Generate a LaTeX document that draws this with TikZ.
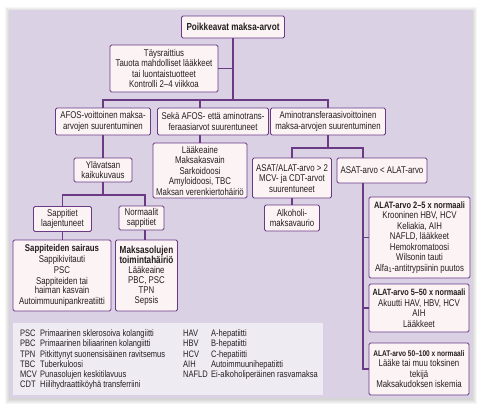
\documentclass[tikz,border=0pt]{standalone}
\usepackage{fontspec}
\setmainfont{Liberation Sans}[FakeStretch=0.8]
\definecolor{panel}{HTML}{DAD1E5}
\definecolor{legbg}{HTML}{EFEBF3}
\definecolor{boxbg}{HTML}{FCF3F5}
\definecolor{pur}{HTML}{6B3A85}
\definecolor{txt}{HTML}{231F20}
\tikzset{
  box/.style={draw=pur, fill=boxbg, line width=0.8pt, rounded corners=1.5pt, align=center,
    inner sep=1pt, text=txt, font=\fontsize{9.8}{10.5}\selectfont},
  conn/.style={draw=pur, line width=1.2pt},
}
\begin{document}
\begin{tikzpicture}[x=1pt,y=-1pt]
\useasboundingbox (0,0) rectangle (480,408);
% shadow and panel
\foreach \i in {1,...,5}{
  \fill[black, opacity=0.035] (10-\i,10-\i+2) rectangle (472+\i,398+\i+1);
}
\fill[panel] (10,10) rectangle (472,398);
\fill[legbg] (13,323) rectangle (323,395);

% nodes
\node[box, minimum width=103pt, minimum height=22pt, font=\bfseries\fontsize{10.2}{11}\selectfont] (root) at (233,27) {Poikkeavat maksa-arvot};
\node[box, minimum width=108pt, minimum height=47pt] (pre) at (164,68.5) {Täysraittius\\Tauota mahdolliset lääkkeet\\tai luontaistuotteet\\Kontrolli 2–4 viikkoa};
\node[box, minimum width=95pt, minimum height=27pt] (afos) at (103,121.5) {AFOS-voittoinen maksa-\\arvojen suurentuminen};
\node[box, minimum width=111pt, minimum height=27pt] (seka) at (213,121.5) {Sekä AFOS- että aminotrans-\\feraasiarvot suurentuneet};
\node[box, minimum width=115pt, minimum height=27pt] (amino) at (328,121.5) {Aminotransferaasivoittoinen\\maksa-arvojen suurentuminen};
\node[box, minimum width=58pt, minimum height=24pt] (yla) at (103,170) {Ylävatsan\\kaikukuvaus};
\node[box, minimum width=94pt, minimum height=55pt] (lake) at (200,170.5) {Lääkeaine\\Maksakasvain\\Sarkoidoosi\\Amyloidoosi, TBC\\Maksan verenkiertohäiriö};
\node[box, minimum width=79pt, minimum height=40pt] (asat2) at (292,178) {ASAT/ALAT-arvo > 2\\MCV- ja CDT-arvot\\suurentuneet};
\node[box, minimum width=90pt, minimum height=25pt] (asatlt) at (382,170.5) {ASAT-arvo < ALAT-arvo};
\node[box, minimum width=58pt, minimum height=25pt] (sapl) at (62.5,219) {Sappitiet\\laajentuneet};
\node[box, minimum width=45pt, minimum height=24pt] (norm) at (141.5,218) {Normaalit\\sappitiet};
\node[box, minimum width=98pt, minimum height=71pt, font=\fontsize{9.8}{9.4}\selectfont] (sair) at (62,275.5) {\textbf{Sappiteiden sairaus}\\[1.6pt]Sappikivitauti\\[1.6pt]PSC\\[1.6pt]Sappiteiden tai\\haiman kasvain\\[1.6pt]Autoimmuunipankreatiitti};
\node[box, minimum width=62pt, minimum height=71pt, font=\fontsize{9.8}{10}\selectfont] (toim) at (146.5,275.5) {\textbf{\fontsize{10.2}{9.8}\selectfont Maksasolujen}\\\textbf{\fontsize{10.2}{9.8}\selectfont toimintahäiriö}\\Lääkeaine\\PBC, PSC\\TPN\\Sepsis};
\node[box, minimum width=55pt, minimum height=26pt] (alko) at (292,218) {Alkoholi-\\maksavaurio};
\node[box, minimum width=101pt, minimum height=81pt] (boxA) at (419.5,237.5) {{\bfseries\fontsize{9.3}{10.5}\selectfont ALAT-arvo 2–5 x normaali}\\Krooninen HBV, HCV\\Keliakia, AIH\\NAFLD, lääkkeet\\Hemokromatoosi\\Wilsonin tauti\\Alfa\textsubscript{1}-antitrypsiinin puutos};
\node[box, minimum width=100pt, minimum height=48pt] (boxB) at (419,308) {{\bfseries\fontsize{9.1}{10.5}\selectfont ALAT-arvo 5–50 x normaali}\\Akuutti HAV, HBV, HCV\\AIH\\Lääkkeet};
\node[box, minimum width=100pt, minimum height=52pt] (boxC) at (419,369) {{\bfseries\fontsize{8.2}{10.5}\selectfont ALAT-arvo 50–100 x normaali}\\Lääke tai muu toksinen\\tekijä\\Maksakudoksen iskemia};

% legend
\node[anchor=north west, inner sep=0pt, text=txt, font=\fontsize{9.4}{10.3}\selectfont] (leg) at (20,329)
{\begin{tabular}{@{}p{20pt}@{}p{143pt}@{}p{28pt}@{}l@{}}
PSC & Primaarinen sklerosoiva kolangiitti & HAV & A-hepatiitti\\
PBC & Primaarinen biliaarinen kolangiitti & HBV & B-hepatiitti\\
TPN & Pitkittynyt suonensisäinen ravitsemus & HCV & C-hepatiitti\\
TBC & Tuberkuloosi & AIH & Autoimmuunihepatiitti\\
MCV & Punasolujen keskitilavuus & NAFLD & Ei-alkoholiperäinen rasvamaksa\\
CDT & Hiilihydraattiköyhä transferriini & & 
\end{tabular}};

% connectors
\coordinate (j1) at (233,100);
\coordinate (j1b) at (200,100);
\coordinate (j2) at (103,195);
\coordinate (j3) at (145,195);
\coordinate (j4) at (328,148);
\coordinate (j5) at (363,148);
\draw[conn] (root.south) -- (j1);
\draw[conn] (pre.east) -- (pre.east -| j1);
\draw[conn] (afos.north) |- (j1) -| (amino.north);
\draw[conn] (j1b) -- (j1b |- seka.north);
\draw[conn] (lake.north) -- (lake.north |- seka.south);
\draw[conn] (yla.north) -- (yla.north |- afos.south);
\draw[conn] (yla.south) -- (j2);
\draw[conn] (sapl.north) |- (j3) -- (j3 |- norm.north);
\draw[conn] (sapl.south) -- (sapl.south |- sair.north);
\draw[conn] (j3 |- norm.south) -- (j3 |- toim.north);
\draw[conn] (amino.south) -- (j4);
\draw[conn] (asat2.north) |- (j5) -- (j5 |- asatlt.north);
\draw[conn] (asat2.south) -- (alko.north);
\draw[conn] (j5 |- asatlt.south) |- (boxC.west);
\draw[conn] (boxA.west) -- (boxA.west -| j5);
\draw[conn] (boxB.west) -- (boxB.west -| j5);
\end{tikzpicture}
\end{document}
